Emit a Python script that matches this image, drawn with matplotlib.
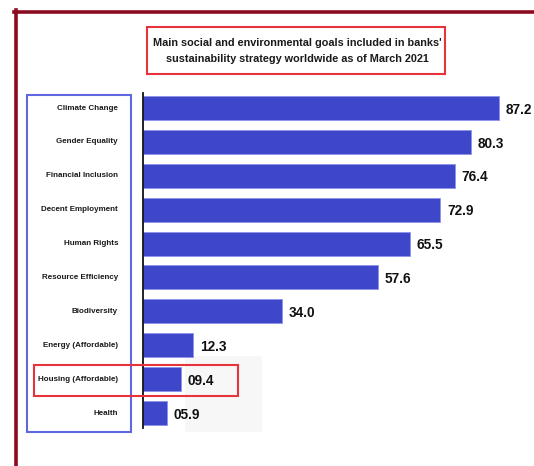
import matplotlib.pyplot as plt
from matplotlib.patches import Rectangle

# goals and share of banks (%)
goals = ["Climate Change", "Gender Equality", "Financial Inclusion", "Decent Employment",
         "Human Rights", "Resource Efficiency", "Biodiversity", "Energy (Affordable)",
         "Housing (Affordable)", "Health"]
shares = [87.2, 80.3, 76.4, 72.9, 65.5, 57.6, 34.0, 12.3, 9.4, 5.9]
share_labels = ["87.2", "80.3", "76.4", "72.9", "65.5", "57.6", "34.0", "12.3", "09.4", "05.9"]

title = "Main social and environmental goals included in banks'\nsustainability strategy worldwide as of March 2021"

W, H = 534, 466
font = ["Liberation Sans", "DejaVu Sans"]

fig = plt.figure(figsize=(W / 100, H / 100), dpi=100)

def fx(px):
    return px / W

def fy(py):
    return 1 - py / H

# axes spanning the bar area
ax = fig.add_axes([fx(143), fy(428), fx(534) - fx(143), fy(93) - fy(428)])
ax.set_xlim(0, 391 / 4.08)
ax.set_ylim(len(goals) - 0.56, -0.44)

pos = list(range(len(goals)))
ax.barh(pos, shares, height=0.71, color="#3e47c9", edgecolor="#8d94ec", linewidth=0.6, zorder=2)
for y, v, s in zip(pos, shares, share_labels):
    ax.text(v + 1.6, y + 0.05, s, va="center", ha="left", fontsize=9.8, fontweight="bold",
            family=font, color="#111111")

ax.set_xticks([])
ax.set_yticks([])
for side in ["top", "right", "bottom"]:
    ax.spines[side].set_visible(False)
ax.spines["left"].set_linewidth(1.3)
ax.spines["left"].set_color("#111111")
ax.patch.set_alpha(0)

# faint panel behind the short bars
fig.add_artist(Rectangle((fx(185), fy(432)), fx(262) - fx(185), fy(356) - fy(432),
                         transform=fig.transFigure, facecolor="#f7f7f7", edgecolor="none", zorder=0))

# category labels inside a blue box
for y, g in zip(pos, goals):
    py = 108 + y * 33.9
    fig.text(fx(118), fy(py), g, ha="right", va="center", fontsize=5.8, fontweight="bold",
             family=font, color="#1a1a1a")
fig.add_artist(Rectangle((fx(27), fy(432)), fx(131) - fx(27), fy(95) - fy(432),
                         transform=fig.transFigure, fill=False, edgecolor="#5f68de", linewidth=1.5))

# title in red box
fig.text(fx(297), fy(51), title, ha="center", va="center", fontsize=7.8, fontweight="bold",
         family=font, color="#1a1a1a", linespacing=1.8)
fig.add_artist(Rectangle((fx(147), fy(74)), fx(445) - fx(147), fy(27) - fy(74),
                         transform=fig.transFigure, fill=False, edgecolor="#e8333a", linewidth=1.5))

# highlight box around housing
fig.add_artist(Rectangle((fx(34), fy(396)), fx(238) - fx(34), fy(365) - fy(396),
                         transform=fig.transFigure, fill=False, edgecolor="#e8333a", linewidth=1.5,
                         zorder=5))

# dark red frame along top and left
fig.add_artist(plt.Line2D([fx(14), 1], [fy(11.5), fy(11.5)], transform=fig.transFigure,
                          color="#8b0b1f", linewidth=2.6))
fig.add_artist(plt.Line2D([fx(15.5), fx(15.5)], [fy(10), 0], transform=fig.transFigure,
                          color="#8b0b1f", linewidth=2.6))

fig.savefig("out.png", dpi=100)
